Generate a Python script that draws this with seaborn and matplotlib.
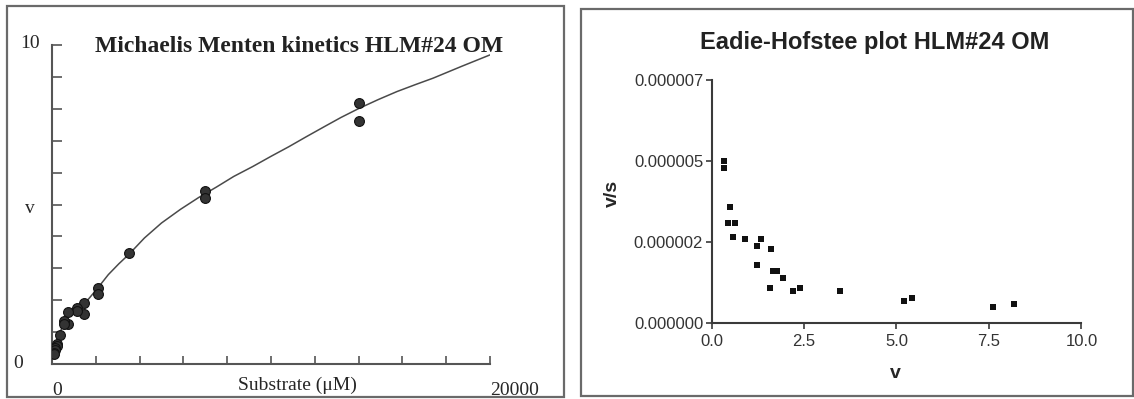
import numpy as np
import pandas as pd
import matplotlib
matplotlib.use("Agg")
import matplotlib.pyplot as plt
import matplotlib.transforms as mtransforms
from matplotlib.patches import Rectangle
import seaborn as sns

# ---------------- data ----------------
# Michaelis-Menten panel: substrate (uM) vs velocity
mm_substrate = [14000, 14000, 7000, 7000, 3500, 2100, 2100, 1450, 1450, 1150, 1150,
                750, 750, 560, 560, 380, 220, 220, 150, 150, 75, 75]
mm_velocity = [8.18, 7.62, 5.41, 5.20, 3.48, 2.39, 2.19, 1.92, 1.58, 1.76, 1.66,
               1.62, 1.24, 1.35, 1.24, 0.91, 0.64, 0.57, 0.51, 0.44, 0.34, 0.30]
# fitted curve
fit_substrate = [75, 200, 365, 600, 900, 1280, 1660, 2110, 2570, 3050, 3530, 4220, 5000,
                 5870, 6700, 7516, 8300, 9165, 10000, 10810, 11600, 12460, 13200, 13980,
                 14900, 15750, 16600, 17400, 18700, 20000]
fit_velocity = [0.34, 0.70, 0.98, 1.40, 1.62, 1.85, 2.03, 2.40, 2.80, 3.14, 3.45, 3.95,
                4.42, 4.85, 5.22, 5.55, 5.88, 6.19, 6.51, 6.81, 7.12, 7.45, 7.73, 8.00,
                8.29, 8.54, 8.76, 8.96, 9.33, 9.69]

# Eadie-Hofstee panel: v vs v/s
eh_v = [0.34, 0.34, 0.51, 0.44, 0.64, 0.57, 0.91, 1.35, 1.24, 1.62, 1.24,
        1.66, 1.76, 1.92, 1.58, 2.19, 2.39, 3.48, 5.20, 5.41, 7.62, 8.18]
eh_vs = [4.67e-6, 4.46e-6, 3.34e-6, 2.88e-6, 2.88e-6, 2.49e-6, 2.42e-6, 2.42e-6,
         2.22e-6, 2.13e-6, 1.66e-6, 1.49e-6, 1.49e-6, 1.29e-6, 1.00e-6, 0.91e-6,
         1.00e-6, 0.91e-6, 0.62e-6, 0.72e-6, 0.46e-6, 0.55e-6]

eh_xticks = [0.0, 2.5, 5.0, 7.5, 10.0]
eh_xticklabels = ["0.0", "2.5", "5.0", "7.5", "10.0"]
eh_yticks = [0.0, 7e-6 / 3, 14e-6 / 3, 7e-6]
eh_yticklabels = ["0.000000", "0.000002", "0.000005", "0.000007"]

mm_df = pd.DataFrame({"S": mm_substrate, "v": mm_velocity})
fit_df = pd.DataFrame({"S": fit_substrate, "v": fit_velocity})
eh_df = pd.DataFrame({"v": eh_v, "vs": eh_vs})

# ---------------- figure ----------------
sns.set_theme(style="white")
plt.rcParams["font.family"] = ["DejaVu Sans"]

W, H = 1134, 399
fig = plt.figure(figsize=(W / 100, H / 100), dpi=100)
fig.patch.set_facecolor("white")

def fx(px):
    return px / W

def fy(py):
    return (H - py) / H

# panel frames
fig.add_artist(Rectangle((fx(7), fy(397)), fx(564) - fx(7), fy(6) - fy(397),
                         transform=fig.transFigure, fill=False, edgecolor="#6a6a6a", lw=1.6))
fig.add_artist(Rectangle((fx(581), fy(396)), fx(1133) - fx(581), fy(9) - fy(396),
                         transform=fig.transFigure, fill=False, edgecolor="#6a6a6a", lw=1.6))

# ---------- left: Michaelis-Menten ----------
serif = ["Liberation Serif", "DejaVu Serif"]
ax1 = fig.add_axes([fx(52), fy(364), fx(490) - fx(52), fy(45) - fy(364)])
ax1.set_facecolor("none")
sns.lineplot(data=fit_df, x="S", y="v", ax=ax1, color="#4a4a4a", lw=1.1,
             sort=False, estimator=None)
sns.scatterplot(data=mm_df, x="S", y="v", ax=ax1, color="#333333", edgecolor="#111111",
                s=50, linewidth=0.8, zorder=3)
ax1.set_xlim(0, 20000)
ax1.set_ylim(0, 10)
for sp in ["top", "right"]:
    ax1.spines[sp].set_visible(False)
for sp in ["left", "bottom"]:
    ax1.spines[sp].set_color("#555555")
    ax1.spines[sp].set_linewidth(1.5)
ax1.set_xticks([0, 20000])
ax1.set_xticklabels(["0", "20000"], family=serif, fontsize=14, ha="left")
ax1.set_xticks(np.arange(2000, 20000, 2000), minor=True)
ax1.set_yticks([0, 10])
ax1.set_yticklabels(["0", "10"], family=serif, fontsize=14)
ax1.set_yticks(np.arange(1, 10, 1), minor=True)
ax1.tick_params(axis="both", which="both", direction="in", color="#555555", width=1.2,
                bottom=True, left=True)
ax1.tick_params(axis="x", which="both", length=6, pad=13)
ax1.tick_params(axis="y", which="both", length=7, pad=8.5)
# nudge the two y labels as in the picture
ylabs = ax1.get_yticklabels()
ylabs[0].set_transform(ylabs[0].get_transform() +
                       mtransforms.ScaledTranslation(-17 / 100, 3 / 100, fig.dpi_scale_trans))
ylabs[1].set_transform(ylabs[1].get_transform() +
                       mtransforms.ScaledTranslation(0, 4 / 100, fig.dpi_scale_trans))
ax1.set_xlabel("Substrate (\u03bcM)", family=serif, fontsize=14)
ax1.xaxis.set_label_coords(0.5605, -0.066)
ax1.xaxis.label.set_va("center")
ax1.set_ylabel("v", family=serif, fontsize=14, rotation=0)
ax1.yaxis.set_label_coords(-0.050, 0.489)
ax1.yaxis.label.set_va("center")
fig.text(fx(299), fy(52), "Michaelis Menten kinetics HLM#24 OM", family=serif,
         fontsize=17, fontweight="bold", ha="center", va="baseline", color="#222222")

# ---------- right: Eadie-Hofstee ----------
sans = ["Liberation Sans", "DejaVu Sans"]
ax2 = fig.add_axes([fx(711.5), fy(323), fx(1081.4) - fx(711.5), fy(80) - fy(323)])
ax2.set_facecolor("none")
sns.scatterplot(data=eh_df, x="v", y="vs", ax=ax2, marker="s", color="#111111",
                s=16, linewidth=0, zorder=3)
ax2.set_xlim(0, 10)
ax2.set_ylim(0, 7e-6)
for sp in ["top", "right"]:
    ax2.spines[sp].set_visible(False)
for sp in ["left", "bottom"]:
    ax2.spines[sp].set_color("#3a3a3a")
    ax2.spines[sp].set_linewidth(1.5)
ax2.set_xticks(eh_xticks)
ax2.set_xticklabels(eh_xticklabels, family=sans, fontsize=12, color="#333333")
ax2.set_yticks(eh_yticks)
ax2.set_yticklabels(eh_yticklabels, family=sans, fontsize=12, color="#333333")
ax2.tick_params(axis="both", direction="out", length=4, width=1.2, color="#3a3a3a",
                bottom=True, left=True)
ax2.tick_params(axis="x", pad=4)
ax2.tick_params(axis="y", pad=2)
ax2.set_xlabel("v", family=sans, fontsize=14, fontweight="bold")
ax2.xaxis.set_label_coords(0.497, -0.206)
ax2.xaxis.label.set_va("center")
ax2.set_ylabel("v/s", family=sans, fontsize=14, fontweight="bold")
ax2.yaxis.set_label_coords(-0.269, 0.535)
ax2.yaxis.label.set_va("center")
fig.text(fx(875), fy(49.3), "Eadie-Hofstee plot HLM#24 OM", family=sans,
         fontsize=17, fontweight="bold", ha="center", va="baseline", color="#222222")

fig.savefig("out.png", dpi=100)
